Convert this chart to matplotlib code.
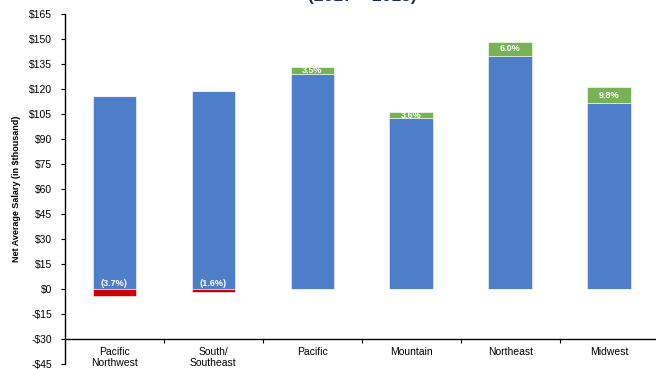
import numpy as np
import matplotlib
matplotlib.use("Agg")
import matplotlib.pyplot as plt
from matplotlib.ticker import FuncFormatter

# data
regions = ["Pacific\nNorthwest", "South/\nSoutheast", "Pacific", "Mountain", "Northeast", "Midwest"]
base_vals = [116.0, 118.5, 128.7, 102.3, 140.0, 111.3]
gain_vals = [0.0, 0.0, 4.7, 3.7, 8.2, 10.0]
loss_vals = [-4.3, -1.9, 0.0, 0.0, 0.0, 0.0]
pct_labels = ["(3.7%)", "(1.6%)", "3.5%", "3.6%", "6.0%", "9.8%"]

BLUE = "#4E7DC9"
GREEN = "#77B255"
RED = "#CC0000"
FONT = ["Liberation Sans", "DejaVu Sans"]

plt.rcParams['font.family'] = FONT

fig = plt.figure(figsize=(6.56, 3.69), dpi=100)
ax = fig.add_axes([0.099, 0.014, 0.905, 0.948])

x = np.arange(len(regions))
w = 0.44
ax.bar(x, base_vals, w, color=BLUE, edgecolor="white", linewidth=0.4, zorder=2)
ax.bar(x, gain_vals, w, bottom=base_vals, color=GREEN, edgecolor="white", linewidth=0.4, zorder=2)
ax.bar(x, loss_vals, w, color=RED, edgecolor="white", linewidth=0.4, zorder=2)

# percent labels
for i, lab in enumerate(pct_labels):
    if gain_vals[i] > 0:
        y = base_vals[i] + gain_vals[i] / 2
        ax.text(x[i], y, lab, ha="center", va="center", color="white",
                fontsize=6.5, fontweight="bold", zorder=3)
    else:
        ax.text(x[i], 0.5, lab, ha="center", va="bottom", color="white",
                fontsize=6.5, fontweight="bold", zorder=3)

ax.set_xlim(-0.5, 5.5)
ax.set_ylim(-45, 165)
ax.set_yticks(np.arange(-45, 166, 15))

def money(v, pos):
    v = int(round(v))
    return f"-${-v}" if v < 0 else f"${v}"

ax.yaxis.set_major_formatter(FuncFormatter(money))
ax.tick_params(axis="y", labelsize=7.5, length=3, width=0.8, direction="out", pad=6)

ax.spines["top"].set_visible(False)
ax.spines["right"].set_visible(False)
ax.spines["bottom"].set_position(("data", -30))
ax.spines["left"].set_linewidth(1.0)
ax.spines["bottom"].set_linewidth(1.0)

ax.set_xticks(x)
ax.set_xticklabels(regions, fontsize=7.5, linespacing=1.1)
ax.set_xticks(np.arange(-0.5, 6.0, 1.0), minor=True)
ax.tick_params(axis="x", which="major", length=0, pad=6)
ax.tick_params(axis="x", which="minor", length=3, width=0.8, direction="out")

ax.set_ylabel("Net Average Salary (in $thousand)", fontsize=6.5, fontweight="bold", labelpad=6)

fig.text(0.553, 0.997, "(2017 \u2013 2018)", ha="center", va="baseline",
         fontsize=12.5, fontweight="bold", color="#1F2D4E")

fig.savefig("out.png", dpi=100)
